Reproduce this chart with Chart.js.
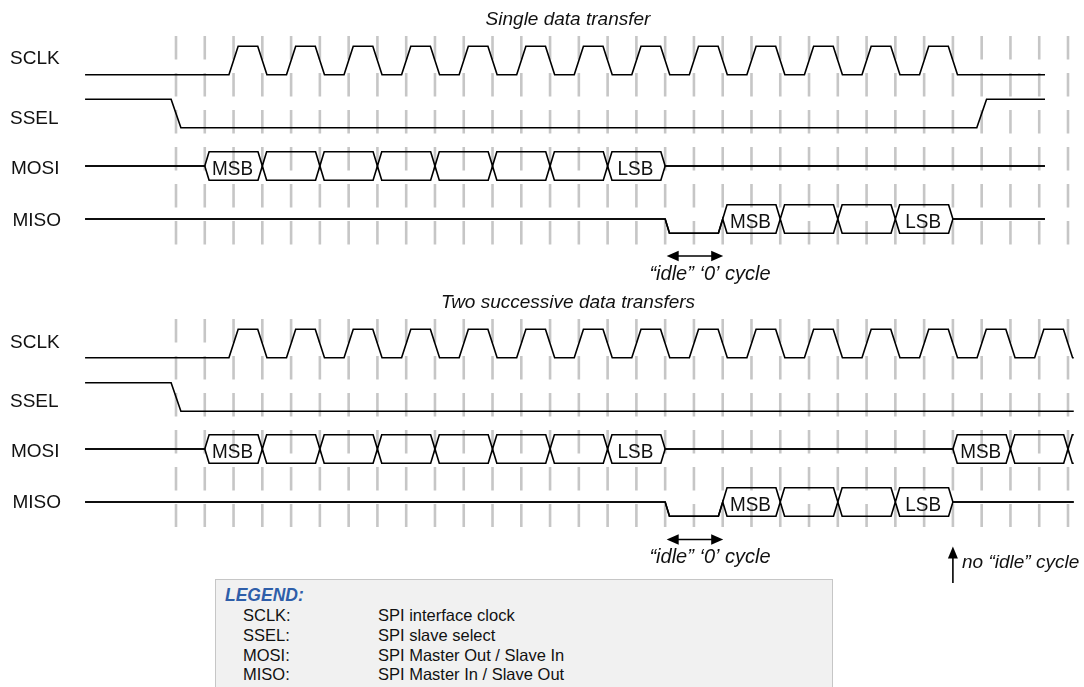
<!DOCTYPE html>
<html>
<head>
<meta charset="utf-8">
<script src="https://cdn.jsdelivr.net/npm/chart.js@4.4.1/dist/chart.umd.min.js"></script>
<style>
  html, body { margin: 0; padding: 0; background: #fff; overflow: hidden; }
  #wrap { position: relative; width: 1084px; height: 687px; overflow: hidden; }
  #c { position: absolute; left: 0; top: 0; }
  #legendBox { position: absolute; left: 215px; top: 579px; width: 618px; height: 140px;
    background: #f1f1f1; border: 1.5px solid #c6c6c6; box-sizing: border-box; }
  .lg { position: absolute; white-space: nowrap; font-family: 'Liberation Sans', Arial, sans-serif;
    font-size: 16.5px; line-height: 20px; height: 20px; color: #111; }
  .lgTitle { font-weight: bold; font-style: italic; font-size: 17.5px; color: #2e5ea9; }
</style>
</head>
<body>
<div id="wrap">
  <canvas id="c" width="1084" height="687"></canvas>
  <div id="legendBox"></div>
</div>
<script>
// ================= DATA =================
const signalNames = ['SCLK', 'SSEL', 'MOSI', 'MISO'];
const sectionTitles = ['Single data transfer', 'Two successive data transfers'];
const gridTicks = [0,1,2,3,4,5,6,7,8,9,10,11,12,13,14,15,16,17,18,19,20,21,22,23,24,25,26,27,28,29,30,31];

// Level waveforms: first value = level before grid line 0, then one value per grid interval
const sclk1 = [0, 0,0, 1,0,1,0,1,0,1,0,1,0,1,0,1,0,1,0,1,0,1,0,1,0,1,0,1,0, 0,0,0];
const ssel1 = [1, 0,0,0,0,0,0,0,0,0,0,0,0,0,0,0,0,0,0,0,0,0,0,0,0,0,0,0,0, 1,1,1];
const sclk2 = [0, 0,0, 1,0,1,0,1,0,1,0,1,0,1,0,1,0,1,0,1,0,1,0,1,0,1,0,1,0,1,0, 1,0];
const ssel2 = [1, 0,0,0,0,0,0,0,0,0,0,0,0,0,0,0,0,0,0,0,0,0,0,0,0,0,0,0,0,0,0,0,0];

// Bus waveforms: [start grid line, value]; 'z' = idle line, '0' = low, anything else = data cell (label)
const mosi1 = [[1,'MSB'],[3,''],[5,''],[7,''],[9,''],[11,''],[13,''],[15,'LSB'],[17,'z']];
const miso1 = [[17,'0'],[19,'MSB'],[21,''],[23,''],[25,'LSB'],[27,'z']];
const mosi2 = [[1,'MSB'],[3,''],[5,''],[7,''],[9,''],[11,''],[13,''],[15,'LSB'],[17,'z'],[27,'MSB'],[29,''],[31,'']];
const miso2 = [[17,'0'],[19,'MSB'],[21,''],[23,''],[25,'LSB'],[27,'z']];

// Annotations (grid units)
const idleCycle = [17, 19];
const noIdleAt = 27;
const idleText = '\u201Cidle\u201D \u20180\u2019 cycle';
const noIdleText = 'no \u201Cidle\u201D cycle';

// Legend
const legendTitle = 'LEGEND:';
const legendNames = ['SCLK:', 'SSEL:', 'MOSI:', 'MISO:'];
const legendDescs = ['SPI interface clock', 'SPI slave select', 'SPI Master Out / Slave In', 'SPI Master In / Slave Out'];

// ================= LAYOUT =================
const FONT = "'Liberation Sans', Arial, sans-serif";
const X_RANGE = [-6.1166, 31.556];   // grid units across the canvas
const traceStart = -3.16;
const amp = 14.2;
const halfEdge = { clk: 0.16, sel: 0.17, bus: 0.15 };
const sections = [
  { rows: [60.5, 113.5, 166, 219], labelBase: [64, 123.5, 173.5, 225.5], grid: [36, 245],
    titleBase: 24.5, end: 30.2, arrowY: 256, idleBase: 279.5,
    waves: { sclk: sclk1, ssel: ssel1, mosi: mosi1, miso: miso1 } },
  { rows: [343.5, 397, 449, 502], labelBase: [348, 407, 456.5, 507.5], grid: [319, 527],
    titleBase: 307.5, end: 31.2, arrowY: 539.5, idleBase: 562.5,
    waves: { sclk: sclk2, ssel: ssel2, mosi: mosi2, miso: miso2 } }
];
const labelX = [10, 10, 11, 12.5];

// ================= BUILDERS =================
const isData = k => !(k === 'z' || k === '0' || k === '1');
function levelSegs(arr, end) {
  const segs = [{ t0: traceStart, t1: 0, k: String(arr[0]) }];
  for (let i = 1; i < arr.length; i++) segs.push({ t0: i - 1, t1: i, k: String(arr[i]) });
  return mergeSegs(segs, end);
}
function busSegs(wave, end) {
  const segs = [{ t0: traceStart, t1: wave[0][0], k: 'z' }];
  wave.forEach((w, i) => segs.push({ t0: w[0], t1: i + 1 < wave.length ? wave[i + 1][0] : end + 2, k: w[1] }));
  return mergeSegs(segs, end);
}
function mergeSegs(segs, end) {
  const out = [];
  segs.forEach(s => {
    const last = out[out.length - 1];
    if (last && !isData(last.k) && !isData(s.k) && last.k === s.k) last.t1 = s.t1;
    else out.push(Object.assign({}, s));
  });
  out[out.length - 1].t1 = Math.max(out[out.length - 1].t1, end + 2);
  return out;
}
function lvl(k, side, yc) {
  if (k === 'z') return yc;
  if (k === '0') return yc + amp;
  if (k === '1') return yc - amp;
  return side === 'u' ? yc - amp : yc + amp;
}
function clipX(pts, xEnd) {
  const out = [];
  for (let i = 0; i < pts.length; i++) {
    const p = pts[i];
    if (p.x <= xEnd) { out.push(p); continue; }
    const q = pts[i - 1];
    const f = (xEnd - q.x) / (p.x - q.x);
    out.push({ x: xEnd, y: q.y + f * (p.y - q.y) });
    break;
  }
  return out;
}
function tracePaths(segs, s, xEnd, yc) {
  const up = [], lo = [];
  const add = (x, k) => { up.push({ x, y: lvl(k, 'u', yc) }); lo.push({ x, y: lvl(k, 'l', yc) }); };
  add(segs[0].t0, segs[0].k);
  for (let i = 1; i < segs.length; i++) {
    const A = segs[i - 1], B = segs[i], t = B.t0;
    if (A.k !== 'z') add(t - s, A.k);
    up.push({ x: t, y: yc }); lo.push({ x: t, y: yc });
    if (B.k !== 'z') add(t + s, B.k);
  }
  const L = segs[segs.length - 1];
  add(L.t1, L.k);
  return [clipX(up, xEnd), clipX(lo, xEnd)];
}

const datasets = [];
const boxLabels = [];
const lineDs = data => ({ data, showLine: true, borderColor: '#000', borderWidth: 1.6, pointRadius: 0,
  pointHitRadius: 0, borderJoinStyle: 'miter', borderCapStyle: 'butt', tension: 0, order: 1 });

sections.forEach(sec => {
  // dashed timing grid
  gridTicks.forEach(g => datasets.push({
    data: [{ x: g, y: sec.grid[0] }, { x: g, y: sec.grid[1] }], showLine: true,
    borderColor: '#c6c6c6', borderWidth: 2.6, borderDash: [23.5, 13.5], borderCapStyle: 'butt',
    pointRadius: 0, pointHitRadius: 0, order: 2
  }));
  const w = sec.waves;
  datasets.push(lineDs(tracePaths(levelSegs(w.sclk, sec.end), halfEdge.clk, sec.end, sec.rows[0])[0]));
  datasets.push(lineDs(tracePaths(levelSegs(w.ssel, sec.end), halfEdge.sel, sec.end, sec.rows[1])[0]));
  [[w.mosi, sec.rows[2]], [w.miso, sec.rows[3]]].forEach(([wave, yc]) => {
    const segs = busSegs(wave, sec.end);
    const [u, l] = tracePaths(segs, halfEdge.bus, sec.end, yc);
    datasets.push(lineDs(u));
    datasets.push(lineDs(l));
    segs.forEach(sg => {
      if (isData(sg.k) && sg.k !== '') boxLabels.push({ x: (sg.t0 + sg.t1) / 2, y: yc, text: sg.k });
    });
  });
});

// ================= TEXT / ANNOTATION PLUGIN =================
function arrowHead(ctx, tipX, tipY, dx, dy, len, half) {
  const px = -dy, py = dx;
  ctx.beginPath();
  ctx.moveTo(tipX, tipY);
  ctx.lineTo(tipX - dx * len + px * half, tipY - dy * len + py * half);
  ctx.lineTo(tipX - dx * len - px * half, tipY - dy * len - py * half);
  ctx.closePath();
  ctx.fill();
}
const textPlugin = {
  id: 'timingTexts',
  afterDatasetsDraw(chart) {
    const { ctx } = chart;
    const xs = chart.scales.x, ys = chart.scales.y;
    ctx.save();
    ctx.fillStyle = '#111';
    ctx.strokeStyle = '#000';
    ctx.textBaseline = 'alphabetic';
    sections.forEach((sec, si) => {
      // title
      ctx.font = 'italic 19px ' + FONT;
      ctx.textAlign = 'center';
      ctx.fillText(sectionTitles[si], 568, ys.getPixelForValue(sec.titleBase));
      // signal names
      ctx.font = '19px ' + FONT;
      ctx.textAlign = 'left';
      signalNames.forEach((n, i) => ctx.fillText(n, labelX[i], ys.getPixelForValue(sec.labelBase[i])));
      // idle arrow
      const x0 = xs.getPixelForValue(idleCycle[0]) + 1.5, x1 = xs.getPixelForValue(idleCycle[1]) + 0.5;
      const ay = ys.getPixelForValue(sec.arrowY);
      ctx.lineWidth = 1.6;
      ctx.beginPath(); ctx.moveTo(x0 + 6, ay); ctx.lineTo(x1 - 6, ay); ctx.stroke();
      ctx.fillStyle = '#000';
      arrowHead(ctx, x0, ay, -1, 0, 12, 5.2);
      arrowHead(ctx, x1, ay, 1, 0, 12, 5.2);
      ctx.fillStyle = '#111';
      ctx.font = 'italic 20px ' + FONT;
      ctx.textAlign = 'center';
      ctx.fillText(idleText, 710, ys.getPixelForValue(sec.idleBase));
    });
    // "no idle" arrow (second transfer)
    const nx = xs.getPixelForValue(noIdleAt);
    ctx.beginPath(); ctx.moveTo(nx, 583); ctx.lineTo(nx, 553); ctx.stroke();
    ctx.fillStyle = '#000';
    arrowHead(ctx, nx, 546.5, 0, -1, 12, 5);
    ctx.fillStyle = '#111';
    ctx.font = 'italic 19px ' + FONT;
    ctx.textAlign = 'left';
    ctx.fillText(noIdleText, 962, 567.5);
    // data cell labels
    ctx.font = '21px ' + FONT;
    ctx.textAlign = 'center';
    boxLabels.forEach(b => {
      const px = xs.getPixelForValue(b.x) - 1, py = ys.getPixelForValue(b.y) + 8.5;
      ctx.save();
      ctx.translate(px, py);
      ctx.scale(0.9, 1);
      ctx.fillText(b.text, 0, 0);
      ctx.restore();
    });
    ctx.restore();
  }
};

new Chart(document.getElementById('c'), {
  type: 'scatter',
  data: { datasets },
  options: {
    responsive: false, maintainAspectRatio: false, animation: false, events: [],
    layout: { padding: 0 },
    plugins: { legend: { display: false }, title: { display: false }, tooltip: { enabled: false } },
    scales: {
      x: { type: 'linear', min: X_RANGE[0], max: X_RANGE[1], display: false },
      y: { type: 'linear', min: 0, max: 687, reverse: true, display: false }
    }
  },
  plugins: [textPlugin]
});

// ================= HTML LEGEND =================
const wrap = document.getElementById('wrap');
function addText(txt, left, baseline, cls, fs) {
  const d = document.createElement('div');
  d.className = cls;
  d.textContent = txt;
  const top = baseline - ((20 - 1.117 * fs) / 2 + 0.905 * fs);
  d.style.left = left + 'px';
  d.style.top = top + 'px';
  wrap.appendChild(d);
}
addText(legendTitle, 225, 601, 'lg lgTitle', 17.5);
const legendBase = [621, 641, 661, 680];
legendNames.forEach((n, i) => {
  addText(n, 243, legendBase[i], 'lg', 16.5);
  addText(legendDescs[i], 378, legendBase[i], 'lg', 16.5);
});
</script>
</body>
</html>
